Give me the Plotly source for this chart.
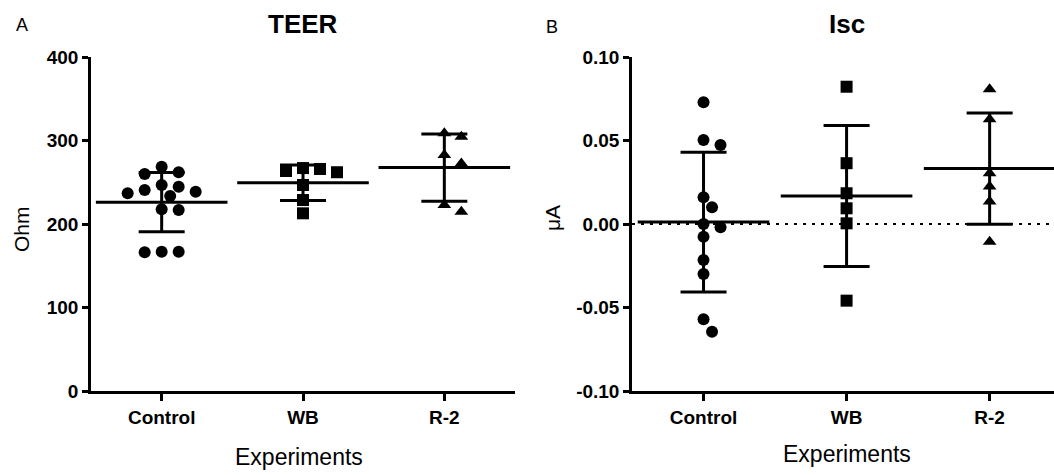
import numpy as np
import plotly.graph_objects as go

W, H = 1054, 475

# ---------------- data ----------------
categories = ["Control", "WB", "R-2"]

teer_control = [268.6, 261.9, 259.9, 246.7, 244.7, 240.7, 238.7, 236.8, 233.5, 217.6, 216.8, 166.8, 166.8, 166.1]
teer_wb = [267.0, 265.9, 263.5, 262.0, 246.7, 228.7, 212.8]
teer_r2 = [308.6, 304.6, 282.6, 272.6, 222.7, 214.7]

isc_control = [0.0729, 0.0503, 0.0473, 0.0160, 0.0100, 0.0000, -0.0020, -0.0076, -0.0216, -0.0300, -0.0571, -0.0645]
isc_wb = [0.0822, 0.0364, 0.0184, 0.0094, 0.0004, -0.0459]
isc_r2 = [0.0807, 0.0627, 0.0304, 0.0224, 0.0134, -0.0106]

teer_ticks = [0, 100, 200, 300, 400]
teer_ticktext = ["0", "100", "200", "300", "400"]
isc_ticks = [-0.10, -0.05, 0.00, 0.05, 0.10]
isc_ticktext = ["-0.10", "-0.05", "0.00", "0.05", "0.10"]

# ---------------- layout constants ----------------
px = lambda v: v / W
py = lambda v: 1 - v / H
X1_DOM = [px(91), px(515)]
X2_DOM = [px(632), 1.0]
Y_DOM = [py(391), py(57)]
X1_RANGE = [-0.5, 2.5]
X2_RANGE = [-0.5, 2.45]
Y1_RANGE = [0, 400]
Y2_RANGE = [-0.10, 0.10]

symbols = ["circle", "square", "triangle-up"]
MSIZE = 12


def beeswarm(values, yrange, xrange, xdom, step=8.5, mind=12.5):
    """Greedy beeswarm: returns x offsets (category units)."""
    plot_h = (Y_DOM[1] - Y_DOM[0]) * H
    plot_w = (xdom[1] - xdom[0]) * W
    ppu_y = plot_h / (yrange[1] - yrange[0])
    ppu_x = plot_w / (xrange[1] - xrange[0])
    order = np.argsort(-np.asarray(values), kind="stable")
    placed = []
    offs = [0.0] * len(values)
    for idx in order:
        yp = values[idx] * ppu_y
        k = 0
        while True:
            cands = [0] if k == 0 else [k, -k]
            ok_off = None
            for c in cands:
                xo = c * step
                if all(np.hypot(xo - a, yp - b) >= mind for a, b in placed):
                    ok_off = xo
                    break
            if ok_off is not None:
                break
            k += 1
        placed.append((ok_off, yp))
        offs[idx] = ok_off / ppu_x
    return offs


fig = go.Figure()

panels = [
    ("x", "y", [teer_control, teer_wb, teer_r2], Y1_RANGE, X1_RANGE, X1_DOM),
    ("x2", "y2", [isc_control, isc_wb, isc_r2], Y2_RANGE, X2_RANGE, X2_DOM),
]

for xa, ya, groups, yr, xr, xd in panels:
    for i, vals in enumerate(groups):
        offs = beeswarm(vals, yr, xr, xd)
        fig.add_trace(go.Scatter(
            x=[i + o for o in offs], y=vals, xaxis=xa, yaxis=ya, mode="markers",
            marker=dict(symbol=symbols[i], size=MSIZE, color="black", line=dict(width=0)),
            showlegend=False, hoverinfo="y", cliponaxis=False))
    for i, vals in enumerate(groups):
        m = float(np.mean(vals))
        sd = float(np.std(vals, ddof=1))
        fig.add_trace(go.Scatter(
            x=[i], y=[m], xaxis=xa, yaxis=ya, mode="markers",
            marker=dict(symbol="line-ew", size=94, color="black",
                        line=dict(width=3, color="black")),
            error_y=dict(type="data", array=[sd], width=23, thickness=3, color="black"),
            showlegend=False, hoverinfo="y", cliponaxis=False))

tickfont = dict(family="Liberation Sans, Arial, sans-serif", size=19, color="black", weight="bold")
common_x = dict(showline=True, linewidth=2.5, linecolor="black", ticks="outside", ticklen=7,
                tickwidth=2.5, tickcolor="black", showgrid=False, zeroline=False,
                tickvals=[0, 1, 2], ticktext=categories, tickfont=tickfont, fixedrange=True)
common_y = dict(showline=True, linewidth=2.5, linecolor="black", ticks="outside", ticklen=6,
                tickwidth=2.5, tickcolor="black", showgrid=False, zeroline=False,
                tickfont=tickfont, fixedrange=True)

fig.update_layout(
    width=W, height=H, autosize=False,
    margin=dict(l=0, r=0, t=0, b=0, pad=0, autoexpand=False),
    paper_bgcolor="white", plot_bgcolor="white",
    xaxis=dict(common_x, domain=X1_DOM, range=X1_RANGE, anchor="y"),
    xaxis2=dict(common_x, domain=X2_DOM, range=X2_RANGE, anchor="y2"),
    yaxis=dict(common_y, domain=Y_DOM, range=Y1_RANGE, anchor="x",
               tickvals=teer_ticks, ticktext=teer_ticktext),
    yaxis2=dict(common_y, domain=Y_DOM, range=Y2_RANGE, anchor="x2",
                tickvals=isc_ticks, ticktext=isc_ticktext),
    shapes=[dict(type="line", xref="x2 domain", yref="y2", x0=0, x1=1, y0=0, y1=0,
                 line=dict(color="black", width=2, dash="3px,6px"), layer="below")],
)

fam = "Liberation Sans, Arial, sans-serif"
ann = [
    dict(text="A", x=px(22), y=py(25), font=dict(size=18, family=fam)),
    dict(text="B", x=px(552), y=py(27), font=dict(size=18, family=fam)),
    dict(text="TEER", x=px(303), y=py(24), font=dict(size=26, family=fam, weight="bold")),
    dict(text="Isc", x=px(847), y=py(24), font=dict(size=26, family=fam, weight="bold")),
    dict(text="Experiments", x=px(299), y=py(457), font=dict(size=23, family=fam)),
    dict(text="Experiments", x=px(847), y=py(454), font=dict(size=23, family=fam)),
    dict(text="Ohm", x=px(21), y=py(229), font=dict(size=21, family=fam), textangle=-90),
    dict(text="\u03bcA", x=px(553), y=py(218), font=dict(size=21, family=fam), textangle=-90),
]
for a in ann:
    a.update(xref="paper", yref="paper", showarrow=False, xanchor="center", yanchor="middle",
             font=dict(a["font"], color="black"))
fig.update_layout(annotations=ann)

fig.write_html("out.html", config={"responsive": False, "displayModeBar": False},
               post_script="document.body.style.margin='0';")
